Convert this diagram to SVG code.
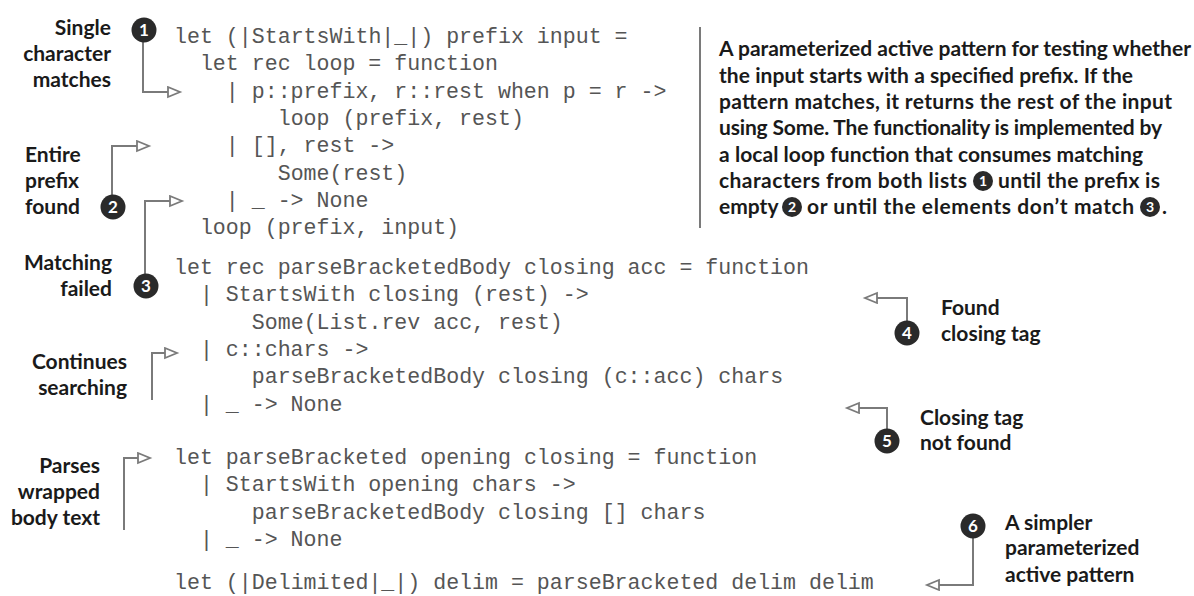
<svg xmlns="http://www.w3.org/2000/svg" width="1194" height="596" viewBox="0 0 1194 596">
<style>
.code{font-family:"Liberation Mono","Courier New",monospace;font-size:21.6px;fill:#555555;white-space:pre}
.lbl{font-family:Lato,"Liberation Sans",sans-serif;font-weight:bold;font-size:21px;fill:#1a1a1a}
.r{text-anchor:end}
.para{font-family:Lato,"Liberation Sans",sans-serif;font-weight:bold;font-size:21px;fill:#1a1a1a}
.num{font-family:Lato,"Liberation Sans",sans-serif;font-weight:bold;font-size:17px;fill:#ffffff;text-anchor:middle}
.pnum{font-family:Lato,"Liberation Sans",sans-serif;font-weight:bold;font-size:14px;fill:#ffffff;text-anchor:middle}
.dot{fill:#2a2a2a}
.ln{fill:none;stroke:#7a7a7a;stroke-width:2}
</style>
<defs>
<marker id="ah" markerUnits="userSpaceOnUse" markerWidth="16" markerHeight="14" refX="13" refY="6" orient="auto">
<path d="M1,1 L13,6 L1,11 Z" fill="#ffffff" stroke="#7a7a7a" stroke-width="1.8"/>
</marker>
</defs>
<rect width="1194" height="596" fill="#ffffff"/>

<g id="code">
<text class="code" x="174" y="43">let (|StartsWith|_|) prefix input =</text>
<text class="code" x="199.9" y="70.3">let rec loop = function</text>
<text class="code" x="225.8" y="97.6">| p::prefix, r::rest when p = r -&gt;</text>
<text class="code" x="277.7" y="124.9">loop (prefix, rest)</text>
<text class="code" x="225.8" y="152.2">| [], rest -&gt;</text>
<text class="code" x="277.7" y="179.5">Some(rest)</text>
<text class="code" x="225.8" y="206.8">| _ -&gt; None</text>
<text class="code" x="199.9" y="234.1">loop (prefix, input)</text>
<text class="code" x="174" y="274">let rec parseBracketedBody closing acc = function</text>
<text class="code" x="199.9" y="301.3">| StartsWith closing (rest) -&gt;</text>
<text class="code" x="251.8" y="328.6">Some(List.rev acc, rest)</text>
<text class="code" x="199.9" y="355.9">| c::chars -&gt;</text>
<text class="code" x="251.8" y="383.2">parseBracketedBody closing (c::acc) chars</text>
<text class="code" x="199.9" y="410.5">| _ -&gt; None</text>
<text class="code" x="174" y="464">let parseBracketed opening closing = function</text>
<text class="code" x="199.9" y="491.3">| StartsWith opening chars -&gt;</text>
<text class="code" x="251.8" y="518.6">parseBracketedBody closing [] chars</text>
<text class="code" x="199.9" y="545.9">| _ -&gt; None</text>
<text class="code" x="174" y="589">let (|Delimited|_|) delim = parseBracketed delim delim</text>
</g>

<g id="connectors">
<path class="ln" d="M143,42 V92 H180" marker-end="url(#ah)"/>
<path class="ln" d="M112,195 V146 H149" marker-end="url(#ah)"/>
<path class="ln" d="M145,274 V201 H182" marker-end="url(#ah)"/>
<path class="ln" d="M152,400 V353 H177" marker-end="url(#ah)"/>
<path class="ln" d="M124,530 V458 H150" marker-end="url(#ah)"/>
<path class="ln" d="M907,321 V298 H865" marker-end="url(#ah)"/>
<path class="ln" d="M887,429 V408 H847" marker-end="url(#ah)"/>
<path class="ln" d="M973,538 V585 H927" marker-end="url(#ah)"/>
<path class="ln" d="M700,27 V228"/>
</g>

<g id="callout1">
<circle class="dot" cx="144" cy="30" r="12.5"/><text class="num" x="144" y="36">1</text>
<text class="lbl r" x="111" y="35">Single</text>
<text class="lbl r" x="111" y="61">character</text>
<text class="lbl r" x="111" y="87">matches</text>
</g>
<g id="callout2">
<circle class="dot" cx="113" cy="207" r="12.5"/><text class="num" x="113" y="213">2</text>
<text class="lbl" x="25" y="162">Entire</text>
<text class="lbl" x="25" y="188">prefix</text>
<text class="lbl" x="25" y="214">found</text>
</g>
<g id="callout3">
<circle class="dot" cx="146" cy="286" r="12.5"/><text class="num" x="146" y="292">3</text>
<text class="lbl r" x="112" y="270">Matching</text>
<text class="lbl r" x="112" y="296">failed</text>
</g>
<g id="callout-continues">
<text class="lbl r" x="127" y="369">Continues</text>
<text class="lbl r" x="127" y="395">searching</text>
</g>
<g id="callout-parses">
<text class="lbl r" x="100" y="473">Parses</text>
<text class="lbl r" x="100" y="499">wrapped</text>
<text class="lbl r" x="100" y="525">body text</text>
</g>
<g id="callout4">
<circle class="dot" cx="907" cy="333" r="12.5"/><text class="num" x="907" y="339">4</text>
<text class="lbl" x="941" y="315">Found</text>
<text class="lbl" x="941" y="341">closing tag</text>
</g>
<g id="callout5">
<circle class="dot" cx="887" cy="441" r="12.5"/><text class="num" x="887" y="447">5</text>
<text class="lbl" x="920" y="425">Closing tag</text>
<text class="lbl" x="920" y="450">not found</text>
</g>
<g id="callout6">
<circle class="dot" cx="973" cy="526" r="12.5"/><text class="num" x="973" y="532">6</text>
<text class="lbl" x="1005" y="530">A simpler</text>
<text class="lbl" x="1005" y="555">parameterized</text>
<text class="lbl" x="1005" y="582">active pattern</text>
</g>

<g id="description">
<text class="para" x="719" y="56" textLength="472">A parameterized active pattern for testing whether</text>
<text class="para" x="719" y="83" textLength="414">the input starts with a specified prefix. If the</text>
<text class="para" x="719" y="109" textLength="453">pattern matches, it returns the rest of the input</text>
<text class="para" x="719" y="135" textLength="443">using Some. The functionality is implemented by</text>
<text class="para" x="719" y="162" textLength="424">a local loop function that consumes matching</text>
<text class="para" x="719" y="188" textLength="248">characters from both lists</text>
<circle class="dot" cx="983" cy="181" r="10"/><text class="pnum" x="983" y="186">1</text>
<text class="para" x="998" y="188" textLength="162">until the prefix is</text>
<text class="para" x="719" y="214">empty</text>
<circle class="dot" cx="792" cy="207" r="10"/><text class="pnum" x="792" y="212">2</text>
<text class="para" x="807" y="214" textLength="327">or until the elements don’t match</text>
<circle class="dot" cx="1150" cy="207" r="10"/><text class="pnum" x="1150" y="212">3</text>
<text class="para" x="1162" y="214">.</text>
</g>
</svg>
